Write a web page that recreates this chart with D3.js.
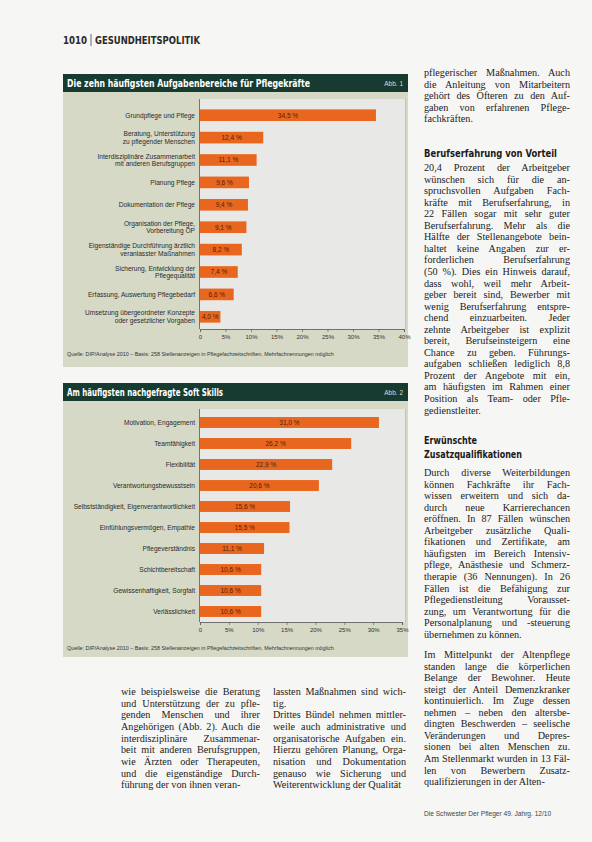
<!DOCTYPE html>
<html><head><meta charset="utf-8">
<script src="https://cdn.jsdelivr.net/npm/d3@7"></script>
<style>html,body{margin:0;padding:0;background:#f6f6f4}svg{display:block}</style>
</head><body><svg id="c" width="592" height="842"></svg>
<script>
// ---------- DATA ----------
const taskCategories = [
  "Grundpflege und Pflege",
  "Beratung, Unterstützung\nzu pflegender Menschen",
  "Interdisziplinäre Zusammenarbeit\nmit anderen Berufsgruppen",
  "Planung Pflege",
  "Dokumentation der Pflege",
  "Organisation der Pflege,\nVorbereitung OP",
  "Eigenständige Durchführung ärztlich\nveranlasster Maßnahmen",
  "Sicherung, Entwicklung der\nPflegequalität",
  "Erfassung, Auswertung Pflegebedarf",
  "Umsetzung übergeordneter Konzepte\noder gesetzlicher Vorgaben"
];
const taskValues = [34.5, 12.4, 11.1, 9.6, 9.4, 9.1, 8.2, 7.4, 6.6, 4.0];
const taskTicks = [0, 5, 10, 15, 20, 25, 30, 35, 40];

const skillCategories = [
  "Motivation, Engagement",
  "Teamfähigkeit",
  "Flexibilität",
  "Verantwortungsbewusstsein",
  "Selbstständigkeit, Eigenverantwortlichkeit",
  "Einfühlungsvermögen, Empathie",
  "Pflegeverständnis",
  "Schichtbereitschaft",
  "Gewissenhaftigkeit, Sorgfalt",
  "Verlässlichkeit"
];
const skillValues = [31.0, 26.2, 22.9, 20.6, 15.6, 15.5, 11.1, 10.6, 10.6, 10.6];
const skillTicks = [0, 5, 10, 15, 20, 25, 30, 35];

const colRight = [
  ["pflegerischer Maßnahmen. Auch","die Anleitung von Mitarbeitern","gehört des Öfteren zu den Auf-","gaben von erfahrenen Pflege-","fachkräften."],
  ["20,4 Prozent der Arbeitgeber","wünschen sich für die an-","spruchsvollen Aufgaben Fach-","kräfte mit Berufserfahrung, in","22 Fällen sogar mit sehr guter","Berufserfahrung. Mehr als die","Hälfte der Stellenangebote bein-","haltet keine Angaben zur er-","forderlichen Berufserfahrung","(50 %). Dies ein Hinweis darauf,","dass wohl, weil mehr Arbeit-","geber bereit sind, Bewerber mit","wenig Berufserfahrung entspre-","chend einzuarbeiten. Jeder","zehnte Arbeitgeber ist explizit","bereit, Berufseinsteigern eine","Chance zu geben. Führungs-","aufgaben schließen lediglich 8,8","Prozent der Angebote mit ein,","am häufigsten im Rahmen einer","Position als Team- oder Pfle-","gedienstleiter."],
  ["Durch diverse Weiterbildungen","können Fachkräfte ihr Fach-","wissen erweitern und sich da-","durch neue Karrierechancen","eröffnen. In 87 Fällen wünschen","Arbeitgeber zusätzliche Quali-","fikationen und Zertifikate, am","häufigsten im Bereich Intensiv-","pflege, Anästhesie und Schmerz-","therapie (36 Nennungen). In 26","Fällen ist die Befähigung zur","Pflegedienstleitung Vorausset-","zung, um Verantwortung für die","Personalplanung und -steuerung","übernehmen zu können."],
  ["Im Mittelpunkt der Altenpflege","standen lange die körperlichen","Belange der Bewohner. Heute","steigt der Anteil Demenzkranker","kontinuierlich. Im Zuge dessen","nehmen – neben den altersbe-","dingten Beschwerden – seelische","Veränderungen und Depres-","sionen bei alten Menschen zu.","Am Stellenmarkt wurden in 13 Fäl-","len von Bewerbern Zusatz-","qualifizierungen in der Alten-"]
];
const colBottom1 = ["wie beispielsweise die Beratung","und Unterstützung der zu pfle-","genden Menschen und ihrer","Angehörigen (Abb. 2). Auch die","interdisziplinäre Zusammenar-","beit mit anderen Berufsgruppen,","wie Ärzten oder Therapeuten,","und die eigenständige Durch-","führung der von ihnen veran-"];
const colBottom2a = ["lassten Maßnahmen sind wich-","tig."];
const colBottom2b = ["Drittes Bündel nehmen mittler-","weile auch administrative und","organisatorische Aufgaben ein.","Hierzu gehören Planung, Orga-","nisation und Dokumentation","genauso wie Sicherung und","Weiterentwicklung der Qualität"];

// ---------- DRAW ----------
const svg = d3.select("#c");
const C = {bar:"#e9661f", title:"#173b30", panel:"#d6d9c6", plot:"#e8e8e6", txt:"#2a2a2a"};
const sansN = "'Liberation Sans Narrow','DejaVu Sans Condensed','Roboto Condensed',sans-serif";
const sans = "'Liberation Sans',Arial,sans-serif";
const serif = "'Liberation Serif','DejaVu Serif',serif";

svg.append("rect").attr("width",592).attr("height",842).attr("fill","#f6f6f4");

// header
svg.append("text").attr("x",63).attr("y",44).attr("font-family",sansN).attr("font-weight","bold")
  .attr("font-size",10.5).attr("fill","#2a2a2a").attr("textLength",24).attr("lengthAdjust","spacingAndGlyphs").text("1010");
svg.append("line").attr("x1",91).attr("x2",91).attr("y1",34).attr("y2",46).attr("stroke","#444").attr("stroke-width",0.8);
svg.append("text").attr("x",95).attr("y",44).attr("font-family",sansN).attr("font-weight","bold")
  .attr("font-size",10.5).attr("fill","#2a2a2a").attr("textLength",105).attr("lengthAdjust","spacingAndGlyphs").text("GESUNDHEITSPOLITIK");

function chart(o){
  const g = svg.append("g");
  g.append("rect").attr("x",63).attr("y",o.top).attr("width",345).attr("height",o.panelBottom-o.top).attr("fill",C.panel);
  g.append("rect").attr("x",63).attr("y",o.top).attr("width",345).attr("height",18).attr("fill",C.title);
  g.append("text").attr("x",67).attr("y",o.top+13).attr("font-family",sansN).attr("font-weight","bold")
    .attr("font-size",11).attr("fill","#fff").attr("textLength",o.titleW).attr("lengthAdjust","spacingAndGlyphs").text(o.title);
  g.append("text").attr("x",403).attr("y",o.top+12).attr("text-anchor","end").attr("font-family",sans)
    .attr("font-size",6.5).attr("fill","#d8ddd6").text(o.abb);

  const x = d3.scaleLinear().domain(o.domain).range([200, o.xRight]);
  const y = d3.scaleBand().domain(d3.range(o.cats.length)).range([o.bandTop, o.bandBottom]).paddingInner(0.48).paddingOuter(0.24);

  g.append("rect").attr("x",199).attr("y",o.plotTop).attr("width",207).attr("height",o.axisY-o.plotTop).attr("fill",C.plot);
  g.append("line").attr("x1",405.5).attr("x2",405.5).attr("y1",o.plotTop).attr("y2",o.axisY).attr("stroke","#b8b8b6").attr("stroke-width",0.8);

  g.selectAll(".bar").data(o.values).join("rect")
    .attr("x",x(0)).attr("y",(d,i)=>y(i)).attr("width",d=>x(d)-x(0)).attr("height",y.bandwidth()).attr("fill",C.bar);

  const fmt = d3.format(".1f");
  g.selectAll(".vl").data(o.values).join("text")
    .attr("x",d=>(x(0)+x(d))/2).attr("y",(d,i)=>y(i)+y.bandwidth()/2+2.3).attr("text-anchor","middle")
    .attr("font-family",sans).attr("font-size",6.5).attr("fill","#4a2208")
    .text(d=>fmt(d).replace(".",",")+" %");

  const lab = g.selectAll(".cl").data(o.cats).join("text")
    .attr("text-anchor","end").attr("font-family",sans).attr("font-size",6.6).attr("fill",C.txt);
  lab.each(function(d,i){
    const lines = d.split("\n");
    const cy = y(i)+y.bandwidth()/2;
    const t = d3.select(this);
    lines.forEach((l,k)=>{
      t.append("tspan").attr("x",195).attr("y",cy+2.3+(k-(lines.length-1)/2)*7.6).text(l);
    });
  });

  const ax = g.append("g").attr("transform",`translate(0,${o.axisY})`)
    .call(d3.axisBottom(x).tickValues(o.ticks).tickSize(3).tickPadding(3).tickFormat(d=>d===0?"0":d+"%"));
  ax.select(".domain").attr("stroke","#555").attr("stroke-width",0.8);
  ax.selectAll(".tick line").attr("stroke","#555").attr("stroke-width",0.6);
  ax.selectAll("text").attr("font-family",sans).attr("font-size",6).attr("fill","#333");
  g.append("line").attr("x1",199.5).attr("x2",199.5).attr("y1",o.plotTop).attr("y2",o.axisY).attr("stroke","#555").attr("stroke-width",0.8);

  g.append("text").attr("x",67).attr("y",o.srcY).attr("font-family",sans).attr("font-size",5.4).attr("fill","#333")
    .text(o.source);
}

chart({top:74, panelBottom:367, title:"Die zehn häufigsten Aufgabenbereiche für Pflegekräfte", titleW:243, abb:"Abb. 1",
  cats:taskCategories, values:taskValues, ticks:taskTicks, domain:[0,40], xRight:404,
  plotTop:99, bandTop:104, bandBottom:328, axisY:329, srcY:356,
  source:"Quelle: DIP/Analyse 2010 – Basis: 258 Stellenanzeigen in Pflegefachzeitschriften, Mehrfachnennungen möglich"});

chart({top:383, panelBottom:657, title:"Am häufigsten nachgefragte Soft Skills", titleW:156, abb:"Abb. 2",
  cats:skillCategories, values:skillValues, ticks:skillTicks, domain:[0,35], xRight:402,
  plotTop:409, bandTop:412, bandBottom:622, axisY:622, srcY:650,
  source:"Quelle: DIP/Analyse 2010 – Basis: 258 Stellenanzeigen in Pflegefachzeitschriften, Mehrfachnennungen möglich"});

// ---------- BODY TEXT (justified via word spacing) ----------
function para(lines, x0, w, y0, lh){
  lines.forEach((l,i)=>{
    const t = svg.append("text").attr("x",x0).attr("y",y0+i*lh).attr("font-family",serif)
      .attr("font-size",10.2).attr("fill","#222").text(l);
    const len = t.node().getComputedTextLength();
    if(len > w){
      t.attr("textLength",w).attr("lengthAdjust","spacingAndGlyphs");
    } else if(i<lines.length-1){
      const n = (l.match(/ /g)||[]).length;
      if(n>0) t.attr("word-spacing",(w-len)/n);
      else t.attr("textLength",w).attr("lengthAdjust","spacing");
    }
  });
}
function heading(lines, x0, y0, w){
  lines.forEach((l,i)=>{
    svg.append("text").attr("x",x0).attr("y",y0+i*14).attr("font-family",sansN).attr("font-weight","bold")
      .attr("font-size",11).attr("fill","#1a1a1a").attr("textLength",w[i]).attr("lengthAdjust","spacingAndGlyphs").text(l);
  });
}
const LH = 11.55, RX = 424, RW = 146;
para(colRight[0], RX, RW, 76, LH);
heading(["Berufserfahrung von Vorteil"], RX, 157, [133]);
para(colRight[1], RX, RW, 171, LH);
heading(["Erwünschte","Zusatzqualifikationen"], RX, 444, [53, 98]);
para(colRight[2], RX, RW, 476, LH);
para(colRight[3], RX, RW, 658, LH);

para(colBottom1, 121, 139, 695, 11.65);
para(colBottom2a, 273, 133, 695, 11.65);
para(colBottom2b, 273, 133, 695+2*11.65, 11.65);

svg.append("text").attr("x",424).attr("y",816).attr("font-family",sans).attr("font-size",6.6).attr("fill","#444")
  .text("Die Schwester Der Pfleger 49. Jahrg. 12/10");
</script></body></html>
